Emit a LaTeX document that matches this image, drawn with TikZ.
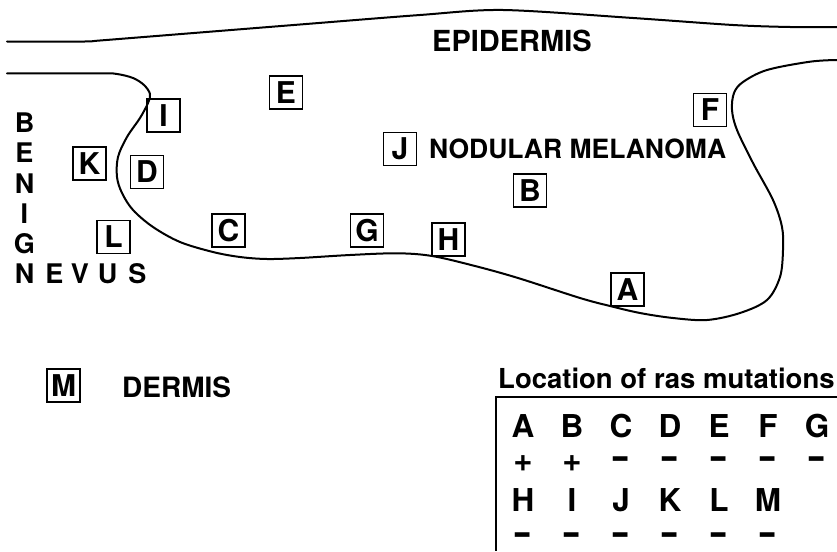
\documentclass[tikz,border=0pt]{standalone}
\usepackage{fontspec}
\setmainfont{TeX Gyre Heros}
\usepackage{graphicx}
\newcommand\possign{{\fontsize{33}{33}\selectfont +}}
\newcommand\negsign{\scalebox{1}[1.7]{\textendash}}
\tikzset{
  outline/.style={line width=2pt, line join=round, line cap=round},
  site/.style={draw, line width=1.1pt, minimum width=33pt, minimum height=33pt,
    inner sep=0pt, font=\fontsize{30}{30}\selectfont\bfseries},
  word/.style={inner sep=0pt, anchor=west, font=\fontsize{#1}{#1}\selectfont\bfseries},
  vletter/.style={inner sep=0pt, font=\fontsize{27}{27}\selectfont\bfseries},
  tletter/.style={inner sep=0pt, font=\fontsize{31.5}{31.5}\selectfont\bfseries},
  sign/.style={inner sep=0pt, font=\fontsize{26}{26}\selectfont\bfseries},
  rule/.style={line width=1.4pt},
}
\begin{document}
\begin{tikzpicture}[x=1pt,y=-1pt]
\useasboundingbox (0,0) rectangle (837,551);
\fill[white] (0,0) rectangle (837,551);

% skin surface (top of the epidermis)
\draw[outline] plot[smooth, tension=0.5] coordinates {
  (7,41.5) (85,41.5) (100,40.5) (200,32.5) (300,24.5) (420,15) (503,10)
  (633,18) (733,25) (790,27) (837,27)};

% dermal-epidermal junction with the nodular melanoma bulging down
\draw[outline] plot[smooth, tension=0.55] coordinates {
  (7,73.3) (100,73.3) (117,74) (133,78) (144,85) (150,94) (148,103)
  (140,118) (127,137) (118,157) (117,177) (122,193) (133,210) (153,227)
  (180,242) (213,252) (240,257) (267,259) (300,258) (350,255) (397,253.3)
  (432,256) (475,266) (518,278) (580,298) (610,306) (640,313) (673,318)
  (707,320) (740,313) (767,300) (780,277) (783,250) (782,227) (773,200)
  (753,163) (737,130) (732,110) (734,93) (743,82) (767,70) (810,61.7) (837,60)};

% region labels
\node[word=29] (epi) at (432,41) {EPIDERMIS};
\node[word=26.5] (nod) at (429,149) {NODULAR MELANOMA};
\node[word=28] (der) at (122,387.5) {DERMIS};

% BENIGN (vertical) and NEVUS (horizontal)
\foreach \c/\y [count=\i] in {B/122.5,E/152.9,N/183.3,I/213.7,G/244.1}
  \node[vletter] (bn\i) at (24.5,\y) {\c};
\foreach \c/\x [count=\i] in {N/24.5,E/54.5,V/80,U/107.5,S/137.5}
  \node[vletter] (nv\i) at (\x,274) {\c};

% sampled sites
\node[site] (sE) at (286,92.5) {E};
\node[site] (sI) at (163.5,115.5) {I};
\node[site] (sF) at (710,110) {F};
\node[site] (sK) at (89.5,163.5) {K};
\node[site] (sD) at (147,172) {D};
\node[site] (sJ) at (400,149) {J};
\node[site] (sB) at (530,190.5) {B};
\node[site] (sC) at (228.5,230.5) {C};
\node[site] (sG) at (367,230.5) {G};
\node[site] (sH) at (448.5,239.5) {H};
\node[site] (sL) at (113.5,237) {L};
\node[site] (sA) at (627.5,289.5) {A};
\node[site] (sM) at (63.5,385.5) {M};

% results table
\node[word=27.5] (loc) at (498,378.5) {Location of ras mutations};
\coordinate (tl) at (496,397);
\coordinate (tr) at (837,397);
\coordinate (bl) at (496,551);
\draw[rule] (tr) -- (tl) -- (bl);

\foreach \l/\s [count=\i from 0] in {A/\possign,B/\possign,C/\negsign,D/\negsign,E/\negsign,F/\negsign,G/\negsign}{
  \node[tletter] (t\l) at ({523+49*\i},426.5) {\l};
  \node[sign] (r\l) at ({523+49*\i},464) {\s};
}
\foreach \l [count=\i from 0] in {H,I,J,K,L,M}{
  \node[tletter] (t\l) at ({523+49*\i},500) {\l};
  \node[sign] (r\l) at ({523+49*\i},540) {\negsign};
}
\end{tikzpicture}
\end{document}
